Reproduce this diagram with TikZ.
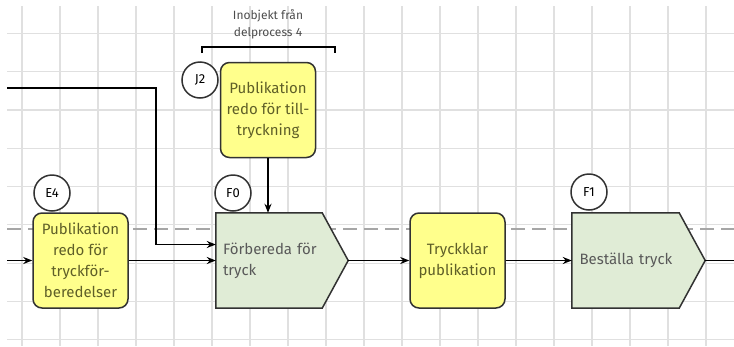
\documentclass[tikz,border=0pt]{standalone}
\usepackage{fontspec}
\setmainfont{Fira Sans}
\usetikzlibrary{arrows.meta}
\definecolor{boxyellow}{RGB}{255,255,140}
\definecolor{boxgreen}{RGB}{224,236,214}
\definecolor{olivetext}{RGB}{95,95,40}
\definecolor{edgegray}{RGB}{50,50,50}
\pgfdeclarelayer{background}
\pgfsetlayers{background,main}

\begin{document}
\begin{tikzpicture}[x=1pt,y=-1pt,
    gridline/.style={draw=black!12,line width=1.2pt},
    lane/.style={draw=black!35,line width=1.2pt,dash pattern=on 14pt off 7pt},
    infobox/.style={draw=edgegray,fill=boxyellow,rounded corners=9pt,line width=1.5pt,
        minimum width=95pt,minimum height=95pt,align=center,text=olivetext,
        font=\fontsize{15}{21}\selectfont},
    procbody/.style={minimum width=132pt,minimum height=95pt,text width=118pt,
        inner xsep=7pt,align=left,text=black!65,font=\fontsize{15}{21}\selectfont},
    procedge/.style={draw=edgegray,fill=boxgreen,line width=1.5pt},
    tag/.style={circle,draw=edgegray,fill=white,line width=1.5pt,minimum size=36pt,
        inner sep=0pt,font=\fontsize{13}{15}\selectfont},
    flow/.style={draw=black,line width=1.6pt,-{Stealth[length=9pt,width=7pt]}},
    plain/.style={draw=black,line width=1.6pt}]
    \useasboundingbox (0,0) rectangle (734,346);

    % rutnat och banlinje i bakgrunden
    \begin{pgfonlayer}{background}
        \foreach \gx in {0,...,18}
            \draw[gridline] ({22+38*\gx},6) -- ({22+38*\gx},346);
        \foreach \gy in {0,...,8}
            \draw[gridline] (7,{33.3+38.3*\gy}) -- (734,{33.3+38.3*\gy});
        \draw[lane] (7,229) -- (734,229);
    \end{pgfonlayer}

    % inobjekt fran delprocess 4
    \node[align=center,text=black!70,font=\fontsize{12}{17}\selectfont] (inlbl) at (268,24)
        {Inobjekt från\\delprocess 4};
    \draw[line width=1.5pt] (202,53) -- (202,47) -- (335,47) -- (335,53);

    \node[infobox] (j2box) at (268,110) {Publikation\\redo för till-\\tryckning};
    \node[tag] (j2) at (200,80) {J2};

    % huvudflodet
    \node[infobox] (e4box) at (80.5,260.5) {Publikation\\redo för\\tryckför-\\beredelser};
    \node[tag] (e4) at (52,193) {E4};

    \node[procbody] (f0) at (282,260.5) {Förbereda för\\tryck};
    \node[tag] (f0tag) at (233,193) {F0};

    \node[infobox] (tryck) at (457.5,260.5) {Tryckklar\\publikation};

    \node[procbody,minimum width=133pt] (f1) at (638.5,260.5) {Beställa tryck};
    \node[tag] (f1tag) at (589,192) {F1};

    % femhorningar bakom texten
    \begin{pgfonlayer}{background}
        \foreach \p in {f0,f1}
            \draw[procedge] (\p.north west) -- ([xshift=-26pt]\p.north east) -- (\p.east)
                -- ([xshift=-26pt]\p.south east) -- (\p.south west) -- cycle;
    \end{pgfonlayer}

    % pilar
    \coordinate (inleft) at (7,260.5);
    \coordinate (topin) at (7,88);
    \coordinate (knee) at (156,88);
    \coordinate (outright) at (734,260.5);
    \draw[flow] (inleft) -- (e4box.west);
    \draw[flow] (e4box.east) -- (f0.west);
    \draw[flow] (topin) -- (knee) |- ([yshift=16pt]f0.west);
    \draw[flow] (j2box.south) -- (j2box.south |- f0.north);
    \draw[flow] (f0.east) -- (tryck.west);
    \draw[flow] (tryck.east) -- (f1.west);
    \draw[plain] (f1.east) -- (outright);
\end{tikzpicture}
\end{document}
